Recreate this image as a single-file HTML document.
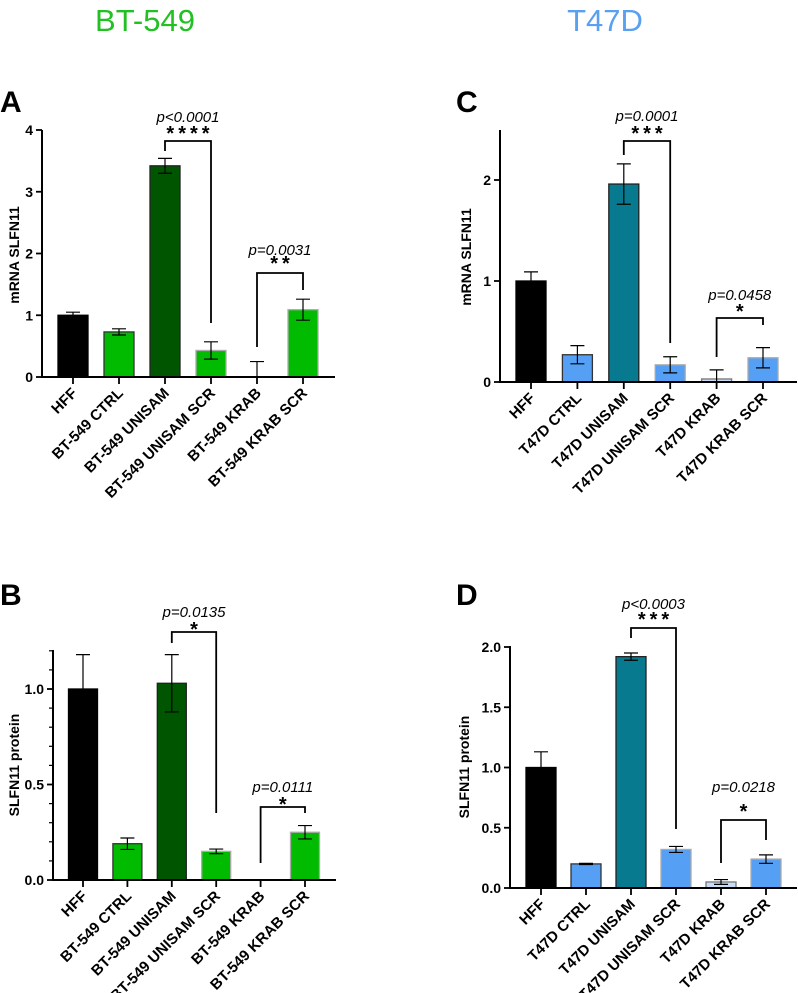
<!DOCTYPE html>
<html><head><meta charset="utf-8"><style>
body{margin:0;background:#fff;}
svg{display:block;font-family:"Liberation Sans",sans-serif;}
</style></head><body>
<svg id="fig" width="798" height="993" viewBox="0 0 798 993">
<text x="145" y="31" font-size="31" fill="#22c022" text-anchor="middle">BT-549</text>
<text x="605" y="31" font-size="31" fill="#5aa0f0" text-anchor="middle">T47D</text>
<text x="0" y="112" font-size="30" font-weight="bold">A</text>
<text x="456" y="112" font-size="30" font-weight="bold">C</text>
<text x="0" y="605" font-size="30" font-weight="bold">B</text>
<text x="456" y="605" font-size="30" font-weight="bold">D</text>
</svg>
<script>
const catsBT = ["HFF","BT-549 CTRL","BT-549 UNISAM","BT-549 UNISAM SCR","BT-549 KRAB","BT-549 KRAB SCR"];
const catsT = ["HFF","T47D CTRL","T47D UNISAM","T47D UNISAM SCR","T47D KRAB","T47D KRAB SCR"];
const valsA = [1.0,0.73,3.42,0.43,0,1.09];
const errA = [0.05,0.05,0.12,0.14,0.25,0.17];
const valsB = [1.0,0.19,1.03,0.15,0,0.25];
const errB = [0.18,0.03,0.15,0.012,0,0.035];
const valsC = [1.0,0.27,1.96,0.17,0.03,0.24];
const errC = [0.09,0.09,0.2,0.08,0.09,0.1];
const valsD = [1.0,0.2,1.92,0.32,0.05,0.24];
const errD = [0.13,0.005,0.03,0.025,0.02,0.035];
const ticksA = [0,1,2,3,4];
const ticksB = ["0.0","0.5","1.0"];
const ticksC = [0,1,2];
const ticksD = ["0.0","0.5","1.0","1.5","2.0"];
const pA = ["p<0.0001","p=0.0031"], starsA = ["****","**"];
const pB = ["p=0.0135","p=0.0111"], starsB = ["*","*"];
const pC = ["p=0.0001","p=0.0458"], starsC = ["***","*"];
const pD = ["p<0.0003","p=0.0218"], starsD = ["***","*"];

const NS="http://www.w3.org/2000/svg";
const svg=document.getElementById('fig');
function mk(tag,attrs,parent){const e=document.createElementNS(NS,tag);for(const k in attrs)e.setAttribute(k,attrs[k]);(parent||svg).appendChild(e);return e;}

function panel(c){
  const g=mk('g',{});
  
  
  const y=v=>c.y0-v*c.unit;
  const x=i=>c.x0+c.x1+i*c.step;
  c.vals.forEach((v,i)=>{
    const r=mk('rect',{x:x(i)-c.bw/2,y:y(v),width:c.bw,height:Math.max(0,c.y0-y(v)),fill:c.colors[i],stroke:c.strokes[i],'stroke-width':1.3},g);
    
    
    const e=c.err[i]; if(e>0){
      const lo=(i===0&&c.hideLow)?v:Math.max(0,v-e);
      const eb=mk('path',{d:`M${x(i)} ${y(v+e)}V${y(lo)}M${x(i)-7} ${y(v+e)}H${x(i)+7}`+(lo<v?`M${x(i)-7} ${y(lo)}H${x(i)+7}`:''),stroke:'#000','stroke-width':1.2,fill:'none'},g);
      
      
    }
    mk('line',{x1:x(i),x2:x(i),y1:c.y0,y2:c.y0+7,stroke:'#000','stroke-width':1.8},g);
    const t=mk('text',{x:x(i)+5,y:c.y0+17,'font-size':15,'font-weight':'bold','text-anchor':'end',transform:`rotate(-45 ${x(i)+5} ${c.y0+17})`},g);
    t.textContent=c.cats[i];
    
    
  });
  const ax=mk('path',{d:`M${c.x0} ${c.top}V${c.y0}H${c.xend}`,stroke:'#000','stroke-width':2,fill:'none'},g);
  
  
  c.ticks.forEach(tv=>{
    const v=parseFloat(tv);
    mk('line',{x1:c.x0-6,x2:c.x0,y1:y(v),y2:y(v),stroke:'#000','stroke-width':1.8},g);
    const t=mk('text',{x:c.x0-9,y:y(v)+5,'font-size':14,'font-weight':'bold','text-anchor':'end'},g);
    t.textContent=tv;
    
    
  });
  (c.minor||[]).forEach(v=>mk('line',{x1:c.x0-4,x2:c.x0,y1:y(v),y2:y(v),stroke:'#000','stroke-width':1.2},g));
  const yt=mk('text',{x:c.ytx,y:c.yty,'font-size':14,'font-weight':'bold','text-anchor':'middle',transform:`rotate(-90 ${c.ytx} ${c.yty})`},g);
  yt.textContent=c.ytitle;
  
  
  c.br.forEach((b,k)=>{
    const xa=x(b.a),xb=x(b.b);
    const p=mk('path',{d:`M${xa} ${b.l}V${b.top}H${xb}V${b.r}`,stroke:'#000','stroke-width':1.8,fill:'none'},g);
    
    
    const pt=mk('text',{x:(xa+xb)/2,y:b.py,'font-size':15,'font-style':'italic','text-anchor':'middle'},g);
    pt.textContent=c.p[k];
    
    
    const st=mk('text',{x:(xa+xb)/2+2,y:b.sy,'font-size':20,'font-weight':'bold','text-anchor':'middle','letter-spacing':4},g);
    st.textContent=c.stars[k];
    
    
  });
}
const gBT=["#000","#00bb00","#005500","#00bb00","#00bb00","#00bb00"];
const sBT=["#000","#333","#222","#aaa","#aaa","#aaa"];
const cT=["#000","#55a0f5","#087a90","#55a0f5","#c8dcf5","#55a0f5"];
const sT=["#000","#333","#222","#aaa","#777","#aaa"];
panel({name:'chart-a',cats:catsBT,vals:valsA,err:errA,ticks:ticksA,p:pA,stars:starsA,colors:gBT,strokes:sBT,
  x0:42,x1:31,step:46,bw:30,y0:377,unit:61.75,top:130,xend:335,ytitle:'mRNA SLFN11',ytx:19,yty:255,hideLow:false,
  br:[{a:2,b:3,top:141,l:151,r:323,py:122,sy:140},{a:4,b:5,top:273,l:347,r:290,py:255,sy:270}]});
panel({name:'chart-b',cats:catsBT,vals:valsB,err:errB,ticks:ticksB,p:pB,stars:starsB,colors:gBT,strokes:sBT,
  minor:[0.1,0.2,0.3,0.4,0.6,0.7,0.8,0.9,1.1,1.2],
  x0:53,x1:30,step:44.4,bw:29,y0:880,unit:191,top:650,xend:336,ytitle:'SLFN11 protein',ytx:19,yty:765,hideLow:true,
  br:[{a:2,b:3,top:632,l:643,r:813,py:617,sy:636},{a:4,b:5,top:807,l:863,r:813,py:792,sy:811}]});
panel({name:'chart-c',cats:catsT,vals:valsC,err:errC,ticks:ticksC,p:pC,stars:starsC,colors:cT,strokes:sT,
  x0:500,x1:31,step:46.4,bw:30,y0:382,unit:101,top:130,xend:797,ytitle:'mRNA SLFN11',ytx:471,yty:257,hideLow:true,
  br:[{a:2,b:3,top:141,l:155,r:343,py:121,sy:140},{a:4,b:5,top:318,l:357,r:325,py:300,sy:318}]});
panel({name:'chart-d',cats:catsT,vals:valsD,err:errD,ticks:ticksD,p:pD,stars:starsD,colors:cT,strokes:sT,
  x0:510,x1:31,step:45,bw:30,y0:888,unit:120.5,top:646,xend:797,ytitle:'SLFN11 protein',ytx:469,yty:767,hideLow:true,
  br:[{a:2,b:3,top:628,l:638,r:829,py:609,sy:626},{a:4,b:5,top:820,l:863,r:840,py:792,sy:818}]});
</script>
</body></html>
